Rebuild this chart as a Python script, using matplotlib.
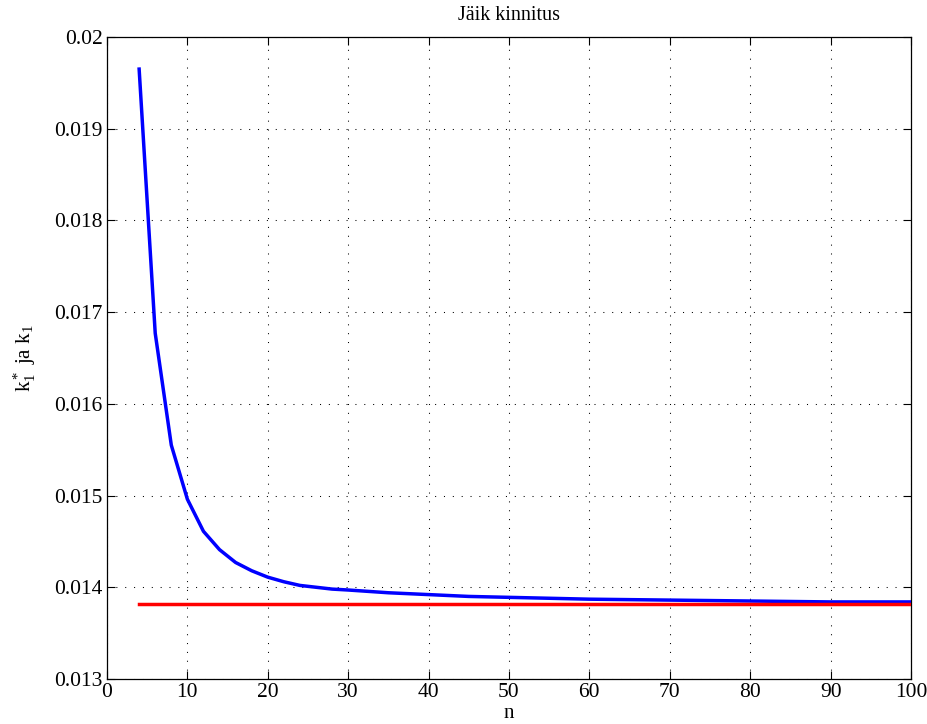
import matplotlib
matplotlib.use("Agg")
import matplotlib.pyplot as plt

# values
n_vals = [4, 6, 8, 10, 12, 14, 16, 18, 20, 22, 24, 26, 28, 30,
          35, 40, 45, 50, 60, 70, 80, 90, 100]
k1_star = [0.01965, 0.01677, 0.01555, 0.01496, 0.01461, 0.01441, 0.01427,
           0.01418, 0.01411, 0.01406, 0.01402, 0.01400, 0.01398, 0.01397,
           0.01394, 0.01392, 0.01390, 0.01389, 0.01387, 0.01386, 0.01385,
           0.01384, 0.01384]
k1_n = [4, 100]
k1 = [0.013812, 0.013812]

title = "Jäik kinnitus"
x_ticks = list(range(0, 101, 10))
y_ticks = [0.013, 0.014, 0.015, 0.016, 0.017, 0.018, 0.019, 0.02]
y_ticklabels = ["0.013", "0.014", "0.015", "0.016", "0.017", "0.018", "0.019", "0.02"]

plt.rcParams['font.family'] = ['Liberation Serif', 'DejaVu Serif']
plt.rcParams['mathtext.fontset'] = 'custom'
plt.rcParams['mathtext.rm'] = 'Liberation Serif'
plt.rcParams['mathtext.it'] = 'Liberation Serif'

fig = plt.figure(figsize=(9.27, 7.24), dpi=100)
ax = fig.add_axes([0.1154, 0.0622, 0.8673, 0.8867])

ax.plot(n_vals, k1_star, color='#0000ff', lw=2.5, zorder=3)
ax.plot(k1_n, k1, color='#ff0000', lw=2.5, zorder=3)

ax.set_xlim(0, 100)
ax.set_ylim(0.013, 0.02)
ax.set_xticks(x_ticks)
ax.set_yticks(y_ticks)
ax.set_yticklabels(y_ticklabels)
ax.tick_params(direction='in', length=6, width=0.8, top=True, right=True,
               labelsize=15.5, pad=3)
ax.grid(True, color='black', linestyle=(0, (1, 7.5)), linewidth=0.75)
for s in ax.spines.values():
    s.set_linewidth(0.9)

ax.set_title(title, fontsize=14.5, pad=12)
ax.set_xlabel("n", fontsize=15, labelpad=1)
ax.set_ylabel(r"$\mathrm{k}_1^*$ ja $\mathrm{k}_1$", fontsize=15, labelpad=12)

fig.savefig("out.png", dpi=100)
